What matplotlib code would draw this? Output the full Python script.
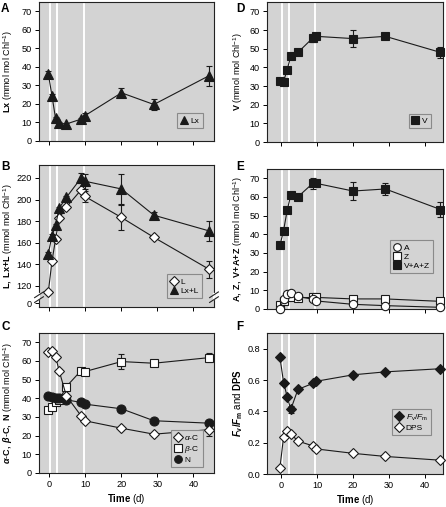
import matplotlib
matplotlib.use('Agg')
import matplotlib.pyplot as plt
from matplotlib.lines import Line2D

plt.rcParams['font.family'] = ['Liberation Sans', 'DejaVu Sans']
plt.rcParams['mathtext.fontset'] = 'custom'
plt.rcParams['mathtext.rm'] = 'Liberation Sans'
plt.rcParams['mathtext.it'] = 'Liberation Sans:italic'
plt.rcParams['mathtext.bf'] = 'Liberation Sans:bold'
plt.rcParams['mathtext.bfit'] = 'Liberation Sans:italic:bold'
plt.rcParams['mathtext.sf'] = 'Liberation Sans'

# ---------------- data ----------------
days = [-0.3, 0.7, 1.7, 2.7, 4.7, 8.8, 9.8, 20, 29, 44.3]
light_change_days = [0.2, 2.2, 9.5]
time_ticks = [0, 10, 20, 30, 40]

lx = [36.1, 24.4, 12.2, 9.5, 9.2, 11.8, 13.6, 26.0, 19.7, 35.2]
lx_err = [1.5, 0.8, 0.8, 0.6, 0.6, 0.8, 1.5, 2.5, 3.0, 5.5]

v = [32.9, 32.3, 38.8, 45.9, 48.0, 55.7, 56.6, 55.4, 56.6, 48.0]
v_err = [0.8, 0.8, 1.0, 1.0, 1.0, 2.0, 1.5, 4.5, 1.5, 3.0]

lut = [114.7, 143.0, 163.2, 182.7, 193.0, 209.0, 203.0, 183.4, 165.0, 135.5]
lut_err = [1.5, 1.5, 1.5, 1.5, 1.5, 2.0, 5.0, 12.0, 1.5, 8.0]
lx_lut = [150.0, 166.6, 176.2, 192.0, 202.0, 220.0, 217.0, 209.8, 185.5, 171.0]
lx_lut_err = [1.5, 1.5, 1.5, 1.5, 1.5, 5.0, 7.0, 14.0, 3.0, 9.0]
b_tick_labels = ['0', '120', '140', '160', '180', '200', '220']

anth = [0.0, 5.2, 8.0, 8.6, 6.8, 5.2, 4.3, 2.5, 1.8, 0.9]
zea = [2.3, 4.5, 6.5, 6.5, 6.0, 6.2, 6.2, 5.4, 5.4, 4.1]
vaz = [34.1, 42.0, 52.8, 61.0, 60.1, 67.3, 67.3, 63.2, 64.3, 53.3]
vaz_err = [1.0, 1.0, 1.0, 1.0, 1.0, 3.0, 1.5, 5.0, 3.0, 4.0]

alpha_c = [65.0, 65.4, 62.3, 54.7, 41.3, 30.6, 28.0, 24.0, 20.8, 23.2]
alpha_c_err = [0.8, 0.8, 0.8, 0.8, 0.8, 0.8, 0.8, 0.8, 0.8, 3.5]
beta_c = [33.5, 35.6, 38.0, 39.0, 46.3, 54.9, 54.3, 59.7, 58.8, 61.8]
beta_c_err = [0.8, 0.8, 0.8, 0.8, 0.8, 0.8, 0.8, 4.0, 0.8, 2.5]
neo = [41.3, 40.6, 40.0, 40.0, 39.2, 37.8, 36.9, 34.4, 28.0, 26.7]

fvfm = [0.745, 0.584, 0.494, 0.412, 0.540, 0.578, 0.592, 0.633, 0.652, 0.672]
fvfm_err = [0.01, 0.01, 0.01, 0.02, 0.01, 0.01, 0.01, 0.01, 0.01, 0.01]
dps = [0.04, 0.236, 0.272, 0.256, 0.21, 0.18, 0.16, 0.132, 0.112, 0.088]

# ---------------- style ----------------
BG = '#d3d3d3'
LC = '#1a1a1a'
FS_TICK = 6.6
FS_LAB = 6.5

fig = plt.figure(figsize=(4.46, 5.07), dpi=100)

W, H = 446.0, 507.0
def make_ax(x0, x1, y0, y1):
    return fig.add_axes([x0 / W, 1 - y1 / H, (x1 - x0) / W, (y1 - y0) / H])

axA = make_ax(39, 214, 2, 141)
axD = make_ax(267, 443, 2, 142)
axB = make_ax(39, 214, 165, 307)
axE = make_ax(267, 443, 169, 309)
axC = make_ax(39, 214, 333, 473)
axF = make_ax(267, 443, 333, 474)

left_axes = [axA, axB, axC]
right_axes = [axD, axE, axF]

for ax in left_axes + right_axes:
    ax.set_facecolor(BG)
    for d in light_change_days:
        ax.axvline(d, color='white', lw=1.4, zorder=1)
    for s in ax.spines.values():
        s.set_linewidth(0.8)
        s.set_color('#222222')
    ax.tick_params(direction='out', length=3, width=0.7, labelsize=FS_TICK, pad=2)
    ax.set_xticks(time_ticks)

for ax in left_axes:
    ax.set_xlim(-2.9, 45.7)
for ax in right_axes:
    ax.set_xlim(-3.9, 45.0)

for ax in [axA, axB, axD, axE]:
    ax.tick_params(labelbottom=False)


def plot_series(ax, y, err, marker, filled, ms, z=3):
    ax.errorbar(days, y, yerr=err, color=LC, lw=0.8, marker=marker, ms=ms,
                mfc=(LC if filled else 'white'), mec=LC, mew=0.8,
                ecolor=LC, elinewidth=0.8, capsize=2, capthick=0.8,
                zorder=z, clip_on=False)


def proxy(marker, filled, ms):
    return Line2D([], [], ls='none', marker=marker, ms=ms,
                  mfc=(LC if filled else 'white'), mec=LC, mew=0.8)


def legend(ax, handles, labels, anchor):
    leg = ax.legend(handles, labels, loc='lower right', bbox_to_anchor=anchor,
                    fontsize=6, frameon=True, fancybox=False, framealpha=1,
                    facecolor=BG, edgecolor='#8a8a8a', borderpad=0.4,
                    handlelength=0.8, handletextpad=0.4, labelspacing=0.15,
                    borderaxespad=0, numpoints=1)
    leg.get_frame().set_linewidth(0.8)
    leg.set_zorder(10)


unit = r' (mmol mol Chl$^{-1}$)'

# ---- A ----
plot_series(axA, lx, lx_err, '^', True, 6.5)
axA.set_ylim(0, 75)
axA.set_yticks(range(0, 71, 10))
axA.set_ylabel(r'$\mathbf{Lx}$' + unit, fontsize=FS_LAB)
legend(axA, [proxy('^', True, 6)], ['Lx'], (0.937, 0.094))

# ---- D ----
plot_series(axD, v, v_err, 's', True, 6)
axD.set_ylim(0, 75)
axD.set_yticks(range(0, 71, 10))
axD.set_ylabel(r'$\mathbf{V}$' + unit, fontsize=FS_LAB)
legend(axD, [proxy('s', True, 5.5)], ['V'], (0.932, 0.10))

# ---- B ----
plot_series(axB, lx_lut, lx_lut_err, '^', True, 6.5, z=4)
plot_series(axB, lut, lut_err, 'D', False, 5, z=3)
axB.set_ylim(100.5, 232)
axB.set_yticks([104.2, 120, 140, 160, 180, 200, 220])
axB.set_yticklabels(b_tick_labels)
axB.set_ylabel(r'$\mathbf{L,\ Lx{+}L}$' + unit, fontsize=FS_LAB)
legend(axB, [proxy('D', False, 5), proxy('^', True, 6)], ['L', 'Lx+L'], (0.931, 0.063))
# axis-break marks
for xb in (0.0, 1.0):
    axB.plot([xb, xb], [0.055, 0.09], transform=axB.transAxes, color='white',
             lw=1.6, clip_on=False, zorder=6)
    for yb in (0.052, 0.086):
        axB.plot([xb - 0.025, xb + 0.025], [yb - 0.02, yb + 0.02],
                 transform=axB.transAxes, color='#222222', lw=0.8,
                 clip_on=False, zorder=7)

# ---- E ----
plot_series(axE, vaz, vaz_err, 's', True, 6)
plot_series(axE, zea, None, 's', False, 6)
plot_series(axE, anth, None, 'o', False, 6, z=4)
axE.set_ylim(0, 75)
axE.set_yticks(range(0, 71, 10))
axE.set_ylabel(r'$\mathbf{A,\ Z,\ V{+}A{+}Z}$' + unit, fontsize=FS_LAB)
legend(axE, [proxy('o', False, 5.5), proxy('s', False, 5.5), proxy('s', True, 5.5)],
       ['A', 'Z', 'V+A+Z'], (0.943, 0.257))

# ---- C ----
plot_series(axC, beta_c, beta_c_err, 's', False, 6, z=3)
plot_series(axC, neo, None, 'o', True, 6.5, z=4)
plot_series(axC, alpha_c, alpha_c_err, 'D', False, 5.5, z=5)
axC.set_ylim(0, 75)
axC.set_yticks(range(0, 71, 10))
axC.set_ylabel(r'$\mathbfit{\alpha}\mathbf{\text{-}C,\ }\mathbfit{\beta}\mathbf{\text{-}C,\ N}$' + unit,
               fontsize=FS_LAB)
axC.set_xlabel(r'$\mathbf{Time}$ (d)', fontsize=6.9, labelpad=2)
legend(axC, [proxy('D', False, 5), proxy('s', False, 5.5), proxy('o', True, 5.5)],
       [r'$\mathit{\alpha}$-C', r'$\mathit{\beta}$-C', 'N'], (0.937, 0.043))

# ---- F ----
plot_series(axF, fvfm, fvfm_err, 'D', True, 5, z=4)
plot_series(axF, dps, None, 'D', False, 5, z=3)
axF.set_ylim(0, 0.9)
axF.set_yticks([0.0, 0.2, 0.4, 0.6, 0.8])
axF.set_yticklabels(['0.0', '0.2', '0.4', '0.6', '0.8'])
axF.set_ylabel(r'$\mathbfit{F}_{\mathbf{v}}\mathbf{/}\mathbfit{F}_{\mathbf{m}}$ and $\mathbf{DPS}$',
               fontsize=6.9)
axF.set_xlabel(r'$\mathbf{Time}$ (d)', fontsize=6.9, labelpad=2)
legend(axF, [proxy('D', True, 5), proxy('D', False, 5)],
       [r'$\mathit{F}_{\rm v}/\mathit{F}_{\rm m}$', 'DPS'], (0.932, 0.277))

for ax in left_axes:
    ax.yaxis.set_label_coords(-0.138, 0.5)
for ax in right_axes:
    ax.yaxis.set_label_coords(-0.125, 0.5)

# panel letters
for letter, x, y in [('A', 1, 3), ('D', 236, 3), ('B', 1, 161),
                     ('E', 236, 161), ('C', 1, 321), ('F', 236, 321)]:
    fig.text(x / W, 1 - y / H, letter, fontsize=8.5, fontweight='bold',
             ha='left', va='top')

fig.savefig('out.png', dpi=100)
